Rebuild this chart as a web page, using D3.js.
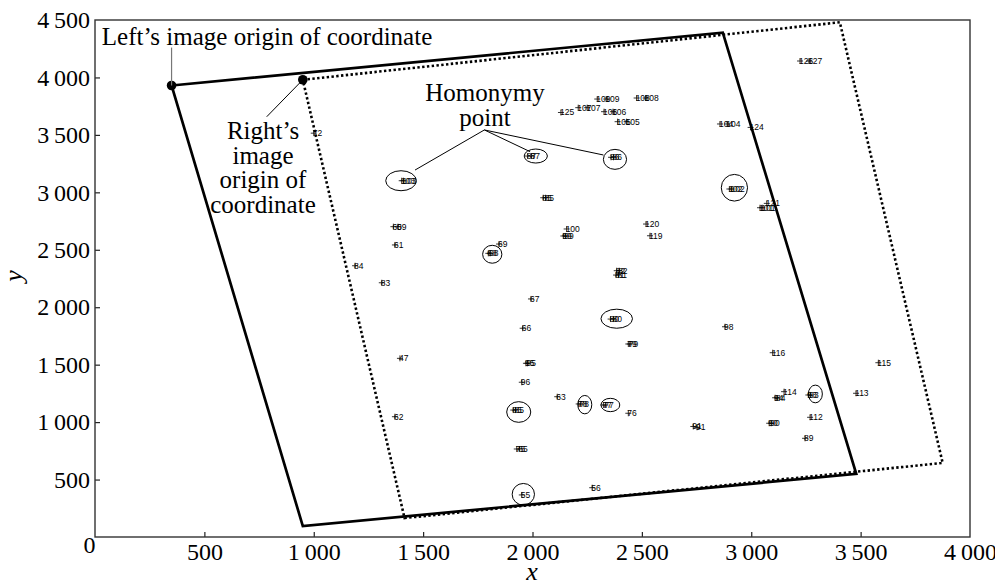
<!DOCTYPE html>
<html>
<head>
  <meta charset="utf-8">
  <title></title>
  <style>
    body { margin: 0; background: #fff; }
    .tick text { font-family: "Liberation Serif", "Times New Roman", serif; font-size: 24px; fill: #000; }
    .tick line { stroke: #222; stroke-width: 1.2px; }
    .domain { display: none; }
    .ann { font-family: "Liberation Serif", "Times New Roman", serif; font-size: 25px; fill: #000; }
    .pt text { font-family: "Liberation Sans", Arial, sans-serif; font-size: 8.5px; fill: #000; }
    .pt path { stroke: #000; stroke-width: 0.8px; }
  </style>
</head>
<body>
<svg width="995" height="584"></svg>
<script src="https://cdn.jsdelivr.net/npm/d3@7"></script>
<script>

// axes
var xTicks = [0, 500, 1000, 1500, 2000, 2500, 3000, 3500, 4000];
var yTicks = [500, 1000, 1500, 2000, 2500, 3000, 3500, 4000, 4500];

// image outlines (corners in image coords)
var leftImage  = [[350, 3930], [2870, 4390], [3480, 550], [950, 95]];
var rightImage = [[950, 3980], [3405, 4480], [3875, 645], [1415, 165]];

// measured points
var ptLabel = ["72", "125", "109", "109", "108", "108", "107", "107", "106", "106",
  "105", "105", "104", "104", "124", "126", "127", "102", "102", "101", "101", "121",
  "85", "85", "103", "103", "87", "87", "86", "86", "100", "99", "99", "120", "119",
  "82", "82", "81", "81", "69", "68", "68", "61", "60", "59", "84", "83", "67",
  "80", "80", "66", "79", "79", "47", "95", "95", "96", "63", "78", "78", "77", "77",
  "76", "85", "85", "75", "65", "62", "55", "56", "91", "91", "98", "116", "115",
  "114", "94", "84", "93", "93", "113", "112", "90", "90", "89"];
var ptX = [1000, 2130, 2296, 2337, 2476, 2517, 2209, 2250, 2327, 2368,
  2389, 2430, 2857, 2890, 2997, 3223, 3264, 2900, 2910, 3040, 3050, 3071,
  2049, 2060, 1402, 1410, 1978, 1995, 2359, 2370, 2156, 2141, 2150, 2519, 2537,
  2385, 2396, 2382, 2393, 1847, 1798, 1806, 1371, 1364, 1385, 1189, 1311, 1993,
  2357, 2370, 1955, 2438, 2445, 1394, 1970, 1977, 1951, 2113, 2211, 2220, 2324, 2333,
  2438, 1912, 1922, 1928, 1940, 1371, 1951, 2273, 2735, 2752, 2880, 3098, 3581,
  3150, 3109, 3118, 3261, 3270, 3479, 3269, 3082, 3091, 3246];
var ptY = [3515, 3695, 3812, 3812, 3821, 3821, 3737, 3737, 3702, 3702,
  3615, 3615, 3595, 3595, 3565, 4143, 4143, 3029, 3029, 2866, 2866, 2904,
  2953, 2953, 3101, 3101, 3316, 3316, 3305, 3305, 2681, 2620, 2620, 2724, 2622,
  2318, 2318, 2280, 2280, 2550, 2469, 2469, 2542, 2701, 2701, 2361, 2213, 2072,
  1897, 1897, 1817, 1680, 1680, 1555, 1512, 1512, 1347, 1221, 1158, 1158, 1149, 1149,
  1077, 1105, 1105, 766, 766, 1047, 366, 429, 962, 955, 1830, 1604, 1517,
  1265, 1212, 1210, 1236, 1236, 1251, 1042, 990, 990, 859];

// homonymy point rings: centre x, centre y, radius x, radius y
var ringX  = [1399, 2015, 2377, 2923, 1816, 2385, 2239, 2356, 3293, 1937, 1958];
var ringY  = [3101, 3316, 3287, 3040, 2461, 1900, 1152, 1149, 1245, 1088, 372];
var ringRx = [70, 53, 53, 60, 44, 72, 32, 43, 32, 55, 51];
var ringRy = [87, 61, 87, 116, 78, 83, 80, 58, 77, 90, 94];

var svg = d3.select("svg");

var x = d3.scaleLinear().domain([0, 4000]).range([95, 970]);
var y = d3.scaleLinear().domain([0, 4500]).range([537, 20]);

var fmt = function(d) {
  return d >= 1000 ? d3.format(",")(d).replace(",", "\u2009") : d;
};

// axes, ticks pointing inward
var gx = svg.append("g")
  .attr("transform", "translate(0,537)")
  .call(d3.axisBottom(x).tickValues(xTicks).tickSizeInner(-5).tickSizeOuter(0)
    .tickPadding(6).tickFormat(fmt));
gx.selectAll(".tick text").filter(function(d) { return d === 0; })
  .attr("transform", "translate(-6,-7)");
gx.selectAll(".tick line").filter(function(d) { return d === 0 || d === 4000; }).remove();

var gy = svg.append("g")
  .attr("transform", "translate(95,0)")
  .call(d3.axisLeft(y).tickValues(yTicks).tickSizeInner(-5).tickSizeOuter(0)
    .tickPadding(5).tickFormat(fmt));
gy.selectAll(".tick line").filter(function(d) { return d === 4500; }).remove();

svg.append("rect")
  .attr("x", x(0)).attr("y", y(4500))
  .attr("width", x(4000) - x(0)).attr("height", y(0) - y(4500))
  .attr("fill", "none").attr("stroke", "#333").attr("stroke-width", 1.4);

svg.append("text").attr("class", "ann")
  .attr("x", 532).attr("y", 580)
  .attr("text-anchor", "middle").style("font-style", "italic").style("font-size", "26px")
  .text("x");
svg.append("text").attr("class", "ann")
  .attr("transform", "translate(22,276) rotate(-90)")
  .attr("text-anchor", "middle").style("font-style", "italic").style("font-size", "26px")
  .text("y");

var line = d3.line().x(function(d) { return x(d[0]); }).y(function(d) { return y(d[1]); });

// right image outline (dotted)
svg.append("path")
  .attr("d", line(rightImage) + "Z")
  .attr("fill", "none").attr("stroke", "#000")
  .attr("stroke-width", 2.6).attr("stroke-dasharray", "2.4,2.4");

// left image outline (solid)
svg.append("path")
  .attr("d", line(leftImage) + "Z")
  .attr("fill", "none").attr("stroke", "#000").attr("stroke-width", 2.7)
  .attr("stroke-linejoin", "miter");

// points
var pts = svg.append("g").selectAll("g")
  .data(ptLabel)
  .enter().append("g")
  .attr("class", "pt")
  .attr("transform", function(d, i) { return "translate(" + x(ptX[i]) + "," + y(ptY[i]) + ")"; });
pts.append("path").attr("d", "M-3,0H3M0,-3V3");
pts.append("text").attr("x", -1).attr("dy", "0.35em").text(function(d) { return d; });

// rings
svg.append("g").selectAll("ellipse")
  .data(ringX)
  .enter().append("ellipse")
  .attr("cx", function(d) { return x(d); })
  .attr("cy", function(d, i) { return y(ringY[i]); })
  .attr("rx", function(d, i) { return x(ringRx[i]) - x(0); })
  .attr("ry", function(d, i) { return y(0) - y(ringRy[i]); })
  .attr("fill", "none").attr("stroke", "#000").attr("stroke-width", 1);

// origin dots
svg.append("g").selectAll("circle")
  .data([leftImage[0], rightImage[0]])
  .enter().append("circle")
  .attr("cx", function(d) { return x(d[0]); })
  .attr("cy", function(d) { return y(d[1]); })
  .attr("r", 4.8).attr("fill", "#000");

// annotations
svg.append("line")
  .attr("x1", x(350)).attr("y1", y(4260)).attr("x2", x(350)).attr("y2", y(3930))
  .attr("stroke", "#777").attr("stroke-width", 1.2);
svg.append("text").attr("class", "ann")
  .attr("x", x(31)).attr("y", y(4282))
  .text("Left\u2019s image origin of coordinate");

svg.append("line")
  .attr("x1", x(785)).attr("y1", y(3658)).attr("x2", x(950)).attr("y2", y(3980))
  .attr("stroke", "#000").attr("stroke-width", 1);
svg.append("text").attr("class", "ann")
  .attr("text-anchor", "middle")
  .selectAll("tspan")
  .data(["Right\u2019s", "image", "origin of", "coordinate"])
  .enter().append("tspan")
  .attr("x", x(768))
  .attr("y", function(d, i) { return y(3464) + i * 24.7; })
  .text(function(d) { return d; });

svg.append("text").attr("class", "ann")
  .attr("text-anchor", "middle")
  .selectAll("tspan")
  .data(["Homonymy", "point"])
  .enter().append("tspan")
  .attr("x", x(1783))
  .attr("y", function(d, i) { return y(3792) + i * 24.7; })
  .text(function(d) { return d; });

svg.append("g").selectAll("line")
  .data([[1463, 3194], [1989, 3354], [2324, 3325]])
  .enter().append("line")
  .attr("x1", x(1780)).attr("y1", y(3543))
  .attr("x2", function(d) { return x(d[0]); })
  .attr("y2", function(d) { return y(d[1]); })
  .attr("stroke", "#000").attr("stroke-width", 1);

</script>
</body>
</html>
